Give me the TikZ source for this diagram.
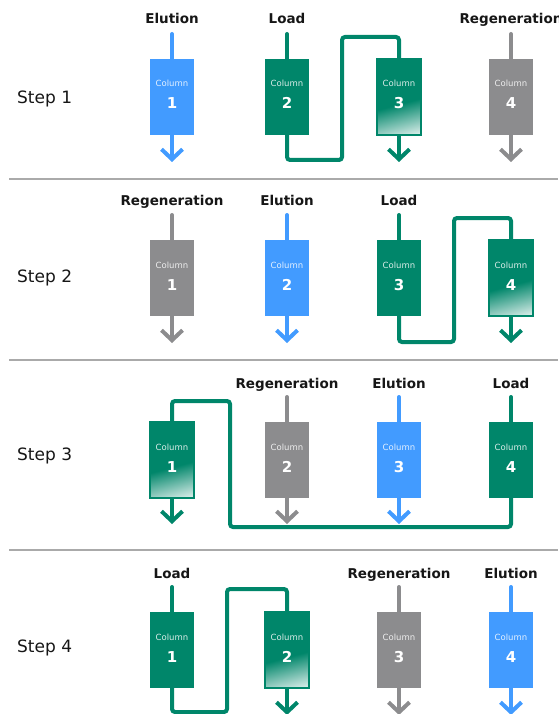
\documentclass[tikz,border=0pt]{standalone}
\usepackage{fontspec}
\setmainfont{DejaVu Sans}
\usetikzlibrary{arrows.meta}

\definecolor{blu}{RGB}{66,155,255}
\definecolor{grn}{RGB}{0,134,106}
\definecolor{gry}{RGB}{140,140,142}
\definecolor{rulegray}{RGB}{170,170,170}
\definecolor{ink}{RGB}{22,22,22}

% saturated column: green on top, washing out towards the lower right corner
\pgfdeclareverticalshading{loadfade}{100bp}{color(0bp)=(grn!6); color(19bp)=(grn!10); color(32bp)=(grn!55); color(45bp)=(grn); color(100bp)=(grn)}

\tikzset{
  colbox/.style={rectangle, minimum width=44pt, minimum height=76pt, inner sep=0pt, outer sep=0pt},
  elu/.style={colbox, fill=blu},
  regen/.style={colbox, fill=gry},
  loadc/.style={colbox, fill=grn},
  fadec/.style={colbox, shade, shading=loadfade, shading angle=15, draw=grn, line width=1.2pt},
  coltag/.style={anchor=base, text=white, text opacity=0.85, inner sep=0pt, font=\fontsize{8.5}{10}\selectfont},
  colnum/.style={anchor=base, text=white, inner sep=0pt, font=\bfseries\fontsize{15}{18}\selectfont},
  phase/.style={anchor=base, text=ink, inner sep=0pt, font=\bfseries\fontsize{13.5}{16}\selectfont},
  steplbl/.style={anchor=base west, text=ink, inner sep=0pt, font=\fontsize{17}{20}\selectfont},
  feedpipe/.style={line width=4pt, line cap=round},
  drainpipe/.style={line width=4pt, -{Straight Barb[length=10pt,width=21pt]}},
  looppipe/.style={line width=4pt, grn, rounded corners=3pt},
  divider/.style={line width=1.2pt, rulegray}
}

% column box with its caption: name, x, y, style, number
\newcommand\colunit[5]{%
  \node[#4] (#1) at (#2,#3) {};
  \node[coltag] (#1-tag) at ([yshift=-28pt]#1.north) {Column};
  \node[colnum] (#1-num) at ([yshift=-50pt]#1.north) {#5};
}
% inlet pipe: name, x, top y, colour
\newcommand\feedpipe[4]{%
  \coordinate (#1-in) at (#2,#3);
  \draw[feedpipe,#4] (#1-in) -- (#1.north);
}
% outlet pipe with arrow: name, x, end y, colour
\newcommand\drainpipe[4]{%
  \coordinate (#1-out) at (#2,#3);
  \draw[drainpipe,#4] (#1.south) -- (#1-out);
}

\begin{document}
\begin{tikzpicture}[x=1pt, y=-1pt]
\useasboundingbox (0,0) rectangle (558,714);

% ---------------- Step 1 ----------------
\node[steplbl] (s1) at (17,104) {Step 1};
\node[phase] (r1l1) at (172,24) {Elution};
\node[phase] (r1l2) at (287,24) {Load};
\node[phase] (r1l4) at (511,24) {Regeneration};
\colunit{r1c1}{172}{97}{elu}{1}
\colunit{r1c2}{287}{97}{loadc}{2}
\colunit{r1c3}{399}{97}{fadec}{3}
\colunit{r1c4}{511}{97}{regen}{4}
\feedpipe{r1c1}{172}{34}{blu}
\drainpipe{r1c1}{172}{162}{blu}
\feedpipe{r1c2}{287}{34}{grn}
\drainpipe{r1c3}{399}{162}{grn}
\feedpipe{r1c4}{511}{34}{gry}
\drainpipe{r1c4}{511}{162}{gry}
\coordinate (r1a) at (342,160);
\coordinate (r1b) at (399,37);
\draw[looppipe] (r1c2.south) |- (r1a) |- (r1b) -- (r1c3.north);

\coordinate (d1a) at (9,179);
\coordinate (d1b) at (558,179);
\draw[divider] (d1a) -- (d1b);

% ---------------- Step 2 ----------------
\node[steplbl] (s2) at (17,282) {Step 2};
\node[phase] (r2l1) at (172,205) {Regeneration};
\node[phase] (r2l2) at (287,205) {Elution};
\node[phase] (r2l3) at (399,205) {Load};
\colunit{r2c1}{172}{278}{regen}{1}
\colunit{r2c2}{287}{278}{elu}{2}
\colunit{r2c3}{399}{278}{loadc}{3}
\colunit{r2c4}{511}{278}{fadec}{4}
\feedpipe{r2c1}{172}{215}{gry}
\drainpipe{r2c1}{172}{343}{gry}
\feedpipe{r2c2}{287}{215}{blu}
\drainpipe{r2c2}{287}{343}{blu}
\feedpipe{r2c3}{399}{215}{grn}
\drainpipe{r2c4}{511}{343}{grn}
\coordinate (r2a) at (454,342);
\coordinate (r2b) at (511,218);
\draw[looppipe] (r2c3.south) |- (r2a) |- (r2b) -- (r2c4.north);

\coordinate (d2a) at (9,360);
\coordinate (d2b) at (558,360);
\draw[divider] (d2a) -- (d2b);

% ---------------- Step 3 ----------------
\node[steplbl] (s3) at (17,460) {Step 3};
\node[phase] (r3l2) at (287,388) {Regeneration};
\node[phase] (r3l3) at (399,388) {Elution};
\node[phase] (r3l4) at (511,388) {Load};
\colunit{r3c1}{172}{460}{fadec}{1}
\colunit{r3c2}{287}{460}{regen}{2}
\colunit{r3c3}{399}{460}{elu}{3}
\colunit{r3c4}{511}{460}{loadc}{4}
\drainpipe{r3c1}{172}{524}{grn}
\feedpipe{r3c2}{287}{397}{gry}
\drainpipe{r3c2}{287}{524}{gry}
\feedpipe{r3c3}{399}{397}{blu}
\drainpipe{r3c3}{399}{524}{blu}
\feedpipe{r3c4}{511}{397}{grn}
\coordinate (r3a) at (230,527);
\coordinate (r3b) at (172,401);
\draw[looppipe] (r3c4.south) |- (r3a) |- (r3b) -- (r3c1.north);

\coordinate (d3a) at (9,550);
\coordinate (d3b) at (558,550);
\draw[divider] (d3a) -- (d3b);

% ---------------- Step 4 ----------------
\node[steplbl] (s4) at (17,652) {Step 4};
\node[phase] (r4l1) at (172,578) {Load};
\node[phase] (r4l3) at (399,578) {Regeneration};
\node[phase] (r4l4) at (511,578) {Elution};
\colunit{r4c1}{172}{650}{loadc}{1}
\colunit{r4c2}{287}{650}{fadec}{2}
\colunit{r4c3}{399}{650}{regen}{3}
\colunit{r4c4}{511}{650}{elu}{4}
\feedpipe{r4c1}{172}{587}{grn}
\drainpipe{r4c2}{287}{715}{grn}
\feedpipe{r4c3}{399}{587}{gry}
\drainpipe{r4c3}{399}{715}{gry}
\feedpipe{r4c4}{511}{587}{blu}
\drainpipe{r4c4}{511}{715}{blu}
\coordinate (r4a) at (227,712);
\coordinate (r4b) at (287,589);
\draw[looppipe] (r4c1.south) |- (r4a) |- (r4b) -- (r4c2.north);
\end{tikzpicture}
\end{document}
